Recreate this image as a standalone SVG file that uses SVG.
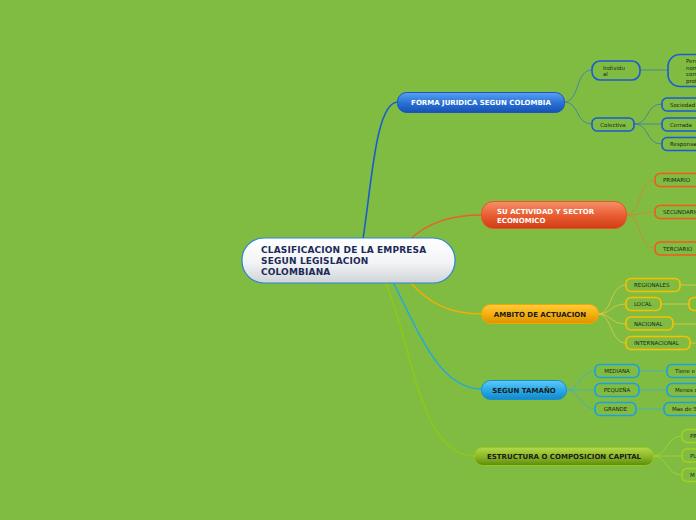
<svg xmlns="http://www.w3.org/2000/svg" width="696" height="520" viewBox="0 0 696 520">
<defs>
<linearGradient id="gMain" x1="0" y1="0" x2="0" y2="1"><stop offset="0" stop-color="#ffffff"/><stop offset="0.55" stop-color="#f2f4f6"/><stop offset="1" stop-color="#cfd4d8"/></linearGradient>
<linearGradient id="gBlue" x1="0" y1="0" x2="0" y2="1"><stop offset="0" stop-color="#5aa2f0"/><stop offset="0.5" stop-color="#2a74d8"/><stop offset="1" stop-color="#1650b4"/></linearGradient>
<linearGradient id="gOrange" x1="0" y1="0" x2="0" y2="1"><stop offset="0" stop-color="#f6906a"/><stop offset="0.5" stop-color="#ea5e34"/><stop offset="1" stop-color="#d03c14"/></linearGradient>
<linearGradient id="gYellow" x1="0" y1="0" x2="0" y2="1"><stop offset="0" stop-color="#fdcc40"/><stop offset="0.5" stop-color="#f6b010"/><stop offset="1" stop-color="#dc9200"/></linearGradient>
<linearGradient id="gCyan" x1="0" y1="0" x2="0" y2="1"><stop offset="0" stop-color="#60caf6"/><stop offset="0.5" stop-color="#2aaae8"/><stop offset="1" stop-color="#1488cc"/></linearGradient>
<linearGradient id="gOlive" x1="0" y1="0" x2="0" y2="1"><stop offset="0" stop-color="#b4d848"/><stop offset="0.5" stop-color="#8cb828"/><stop offset="1" stop-color="#5c8c0c"/></linearGradient>
</defs>
<style>
text{font-family:"DejaVu Sans","Liberation Sans",sans-serif;}
.main{font-size:9px;font-weight:bold;fill:#1c2a58;letter-spacing:0.15px;}
.br{font-size:7px;font-weight:bold;}
.w{fill:#ffffff;}
.d{fill:#1a1a1a;}
.sm{font-size:5.5px;fill:#1a2418;}
.leaf{fill:none;stroke-width:1.6;}
.lb{stroke:#1a5ad8;}
.lo{stroke:#f25a1c;}
.ly{stroke:#f8c000;}
.lc{stroke:#1aa0e0;}
.lg{stroke:#a4d020;}
</style>
<rect width="696" height="520" fill="#80bc42"/>
<g id="connectors" fill="none">
<path d="M363,239 C372,180 376,102 398,102" stroke="#1a5cd0" stroke-width="1.6"/>
<path d="M408,241 C428,222 452,215 482,215" stroke="#e8602a" stroke-width="1.4"/>
<path d="M410,282 C430,305 452,314 482,314" stroke="#f0b000" stroke-width="1.4"/>
<path d="M393,282 C420,335 440,389 482,389" stroke="#20a8e0" stroke-width="1.4"/>
<path d="M385,282 C412,340 418,456 475,456" stroke="#8cc81a" stroke-width="1.6"/>
<g stroke="#3a7ab4" stroke-width="0.8">
<path d="M564,102 C580,102 575,70 592,70"/>
<path d="M564,102 C580,102 575,124 592,124"/>
<path d="M640,70 L668,70"/>
<path d="M634,124 C650,124 645,104 662,104"/>
<path d="M634,124 L662,124"/>
<path d="M634,124 C650,124 645,144 662,144"/>
</g>
<g stroke="#d8803a" stroke-width="0.8">
<path d="M626,215 C642,215 638,180 655,180"/>
<path d="M626,215 C642,215 638,212 655,212"/>
<path d="M626,215 C642,215 638,248 655,248"/>
</g>
<g stroke="#e8c848" stroke-width="0.8">
<path d="M598,314 C612,314 610,285 626,285"/>
<path d="M598,314 C612,314 610,304 626,304"/>
<path d="M598,314 C612,314 610,324 626,324"/>
<path d="M598,314 C612,314 610,343 626,343"/>
<path d="M680,285 L696,285"/>
<path d="M661,304 L689,304"/>
<path d="M673,324 L696,324"/>
<path d="M690,343 L696,343"/>
</g>
<g stroke="#38b0d8" stroke-width="0.8">
<path d="M566,390 C580,390 580,371 595,371"/>
<path d="M566,390 L595,390"/>
<path d="M566,390 C580,390 580,409 595,409"/>
<path d="M639,371 L667,371"/>
<path d="M639,390 L667,390"/>
<path d="M636,409 L664,409"/>
</g>
<g stroke="#a8d430" stroke-width="0.8">
<path d="M653,456 C668,456 666,436 682,436"/>
<path d="M653,456 L682,456"/>
<path d="M653,456 C668,456 666,475 682,475"/>
</g>
</g>
<g id="main">
<rect x="242" y="238" width="213" height="45" rx="22" fill="url(#gMain)" stroke="#2a86d8" stroke-width="1.2"/>
<text class="main" x="261" y="253">CLASIFICACION DE LA EMPRESA</text>
<text class="main" x="261" y="264">SEGUN LEGISLACION</text>
<text class="main" x="261" y="275">COLOMBIANA</text>
</g>
<g id="forma">
<rect x="397.5" y="92.5" width="167" height="20" rx="9" fill="url(#gBlue)" stroke="#1a56c0" stroke-width="1"/>
<text class="br w" x="481" y="105" text-anchor="middle">FORMA JURIDICA SEGUN COLOMBIA</text>
</g>
<g id="individual"><rect x="592" y="61" width="48" height="19" rx="8" class="leaf lb"/><text class="sm" x="603" y="69.5">Individu</text><text class="sm" x="603" y="76">al</text></g>
<g id="persona"><rect x="668" y="54.5" width="40" height="32" rx="12" class="leaf lb"/><text class="sm" x="686" y="63">Pers</text><text class="sm" x="686" y="69.5">nom</text><text class="sm" x="686" y="76">com</text><text class="sm" x="686" y="82.5">prof</text></g>
<g id="colectiva"><rect x="592" y="118" width="42" height="13" rx="5" class="leaf lb"/><text class="sm" x="613" y="126.5" text-anchor="middle">Colectiva</text></g>
<g id="sociedad"><rect x="662" y="98" width="50" height="13" rx="5" class="leaf lb"/><text class="sm" x="670" y="106.5">Sociedad</text></g>
<g id="cerrada"><rect x="662" y="118" width="50" height="13" rx="5" class="leaf lb"/><text class="sm" x="670" y="126.5">Cerrada</text></g>
<g id="responsa"><rect x="662" y="137.5" width="50" height="13" rx="5" class="leaf lb"/><text class="sm" x="670" y="146">Responsa</text></g>
<g id="actividad">
<rect x="481.5" y="201.5" width="145" height="27" rx="12" fill="url(#gOrange)" stroke="#e85424" stroke-width="1"/>
<text class="br w" x="497" y="213.5">SU ACTIVIDAD Y SECTOR</text>
<text class="br w" x="497" y="222.5">ECONOMICO</text>
</g>
<g id="primario"><rect x="655" y="173.5" width="50" height="13" rx="5" class="leaf lo"/><text class="sm" x="663" y="182">PRIMARIO</text></g>
<g id="secundario"><rect x="655" y="205.5" width="50" height="13" rx="5" class="leaf lo"/><text class="sm" x="663" y="214">SECUNDARIO</text></g>
<g id="terciario"><rect x="655" y="242" width="50" height="13" rx="5" class="leaf lo"/><text class="sm" x="663" y="250.5">TERCIARIO</text></g>
<g id="ambito">
<rect x="481.5" y="304.5" width="117" height="19" rx="9" fill="url(#gYellow)" stroke="#f0a800" stroke-width="1"/>
<text class="br d" x="540" y="316.5" text-anchor="middle">AMBITO DE ACTUACION</text>
</g>
<g id="regionales"><rect x="626" y="278.5" width="54" height="13" rx="5" class="leaf ly"/><text class="sm" x="634" y="287">REGIONALES</text></g>
<g id="local"><rect x="626" y="297.5" width="35" height="13" rx="5" class="leaf ly"/><text class="sm" x="634" y="306">LOCAL</text></g>
<g id="local-hijo"><rect x="689" y="297.5" width="20" height="13" rx="5" class="leaf ly"/></g>
<g id="nacional"><rect x="626" y="317" width="47" height="13" rx="5" class="leaf ly"/><text class="sm" x="634" y="325.5">NACIONAL</text></g>
<g id="internacional"><rect x="626" y="336.5" width="64" height="13" rx="5" class="leaf ly"/><text class="sm" x="634" y="345">INTERNACIONAL</text></g>
<g id="tamano">
<rect x="481.5" y="380.5" width="85" height="19" rx="9" fill="url(#gCyan)" stroke="#1890d0" stroke-width="1"/>
<text class="br d" x="524" y="392.5" text-anchor="middle">SEGUN TAMAÑO</text>
</g>
<g id="mediana"><rect x="595" y="364.5" width="44" height="13" rx="5" class="leaf lc"/><text class="sm" x="617" y="373" text-anchor="middle">MEDIANA</text></g>
<g id="pequena"><rect x="595" y="383.5" width="44" height="13" rx="5" class="leaf lc"/><text class="sm" x="617" y="392" text-anchor="middle">PEQUEÑA</text></g>
<g id="grande"><rect x="595" y="402.5" width="41" height="13" rx="5" class="leaf lc"/><text class="sm" x="615.5" y="411" text-anchor="middle">GRANDE</text></g>
<g id="mediana-hijo"><rect x="667" y="364.5" width="45" height="13" rx="5" class="leaf lc"/><text class="sm" x="675" y="373">Tiene e</text></g>
<g id="pequena-hijo"><rect x="667" y="383.5" width="45" height="13" rx="5" class="leaf lc"/><text class="sm" x="675" y="392">Menos d</text></g>
<g id="grande-hijo"><rect x="664" y="402.5" width="45" height="13" rx="5" class="leaf lc"/><text class="sm" x="672" y="411">Mas de 5</text></g>
<g id="estructura">
<rect x="474.5" y="447.5" width="179" height="18" rx="8" fill="url(#gOlive)" stroke="#98c820" stroke-width="1"/>
<text class="br d" x="564" y="459" text-anchor="middle">ESTRUCTURA O COMPOSICION CAPITAL</text>
</g>
<g id="pr"><rect x="682" y="429.5" width="30" height="13" rx="5" class="leaf lg"/><text class="sm" x="690" y="438">PR</text></g>
<g id="pu"><rect x="682" y="449" width="30" height="13" rx="5" class="leaf lg"/><text class="sm" x="690" y="457.5">PU</text></g>
<g id="m"><rect x="682" y="468.5" width="30" height="13" rx="5" class="leaf lg"/><text class="sm" x="690" y="477">M</text></g>
</svg>
